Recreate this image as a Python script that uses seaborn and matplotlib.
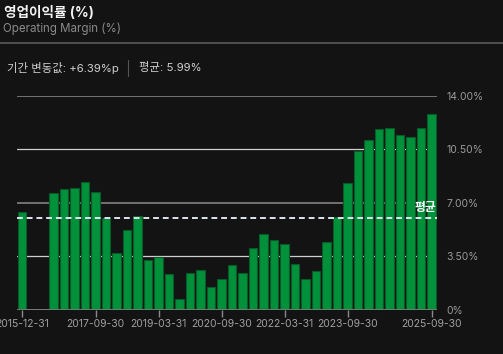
import matplotlib
matplotlib.use("Agg")
import matplotlib.pyplot as plt
import seaborn as sns
import pandas as pd
import numpy as np
from matplotlib.lines import Line2D

# ---- data ----
dates = pd.date_range("2015-12-31", "2025-09-30", freq="QE").strftime("%Y-%m-%d").tolist()
margin = [6.40, np.nan, np.nan, 7.65, 7.93, 7.97, 8.37, 7.71, 6.03, 3.70,
          5.23, 6.14, 3.25, 3.46, 2.37, 0.72, 2.39, 2.63, 1.48, 2.03,
          2.94, 2.39, 4.03, 4.97, 4.55, 4.31, 2.98, 2.03, 2.55, 4.42,
          6.10, 8.30, 10.39, 11.11, 11.81, 11.87, 11.46, 11.29, 11.87, 12.79]
tick_labels = ["2015-12-31", "2017-09-30", "2019-03-31", "2020-09-30",
               "2022-03-31", "2023-09-30", "2025-09-30"]
y_ticks = [0, 3.5, 7.0, 10.5, 14.0]
y_tick_labels = ["0%", "3.50%", "7.00%", "10.50%", "14.00%"]
title = "영업이익률 (%)"
subtitle = "Operating Margin (%)"
stat_change = "기간 변동값: +6.39%p"
stat_mean = "평균: 5.99%"
mean_value = 5.99

df = pd.DataFrame({"date": dates, "margin": margin})
df_valid = df.dropna()

BG = "#131313"
sns.set_theme(style="dark")
FAM = ["Inter", "Noto Sans CJK KR", "DejaVu Sans"]
plt.rcParams["font.family"] = FAM

W, H = 503, 354
fig = plt.figure(figsize=(W / 100, H / 100), dpi=100, facecolor=BG)

def px(x, y):
    return x / W, 1 - y / H

# header
fig.text(*px(4, 13), title, color="#f2f2f2", fontsize=9.8, fontweight="bold", va="center", ha="left")
fig.text(*px(3, 29), subtitle, color="#8a8a8a", fontsize=8.3, va="center", ha="left")
fig.add_artist(Line2D([0, 1], [1 - 43 / H] * 2, color="#5a5a5a", lw=1.2, transform=fig.transFigure))
fig.text(*px(7, 68), stat_change, color="#d0d0d0", fontsize=8.2, va="center", ha="left")
fig.add_artist(Line2D([128 / W] * 2, [1 - 60 / H, 1 - 76 / H], color="#555555", lw=0.8, transform=fig.transFigure))
fig.text(*px(139, 68), stat_mean, color="#d0d0d0", fontsize=8.2, va="center", ha="left")

left, right = 16.75, 436.75
top, bottom = 95.7, 310
ax = fig.add_axes([left / W, 1 - bottom / H, (right - left) / W, (bottom - top) / H])
ax.set_facecolor(BG)

sns.barplot(data=df_valid, x="date", y="margin", order=dates, color="#00913a",
            saturation=1, width=0.8, edgecolor="#0a5a28", linewidth=0.8, ax=ax)

ax.set_xlim(-0.5, len(dates) - 0.5)
ax.set_ylim(0, 14)

# gridlines
for v in y_ticks:
    if v in (0, 7.0, 14.0):
        ax.axhline(v, color="#7a7a7a", lw=1.3, zorder=0.5)
    else:
        ax.axhline(v, color="#cfcfcf", lw=0.9, zorder=0.5)
ax.axhline(0, color="#7a7a7a", lw=1.3, zorder=3)

# mean line
ax.axhline(mean_value, color="#dfe4f0", lw=1.4, ls=(0, (3, 2)), zorder=4)
ax.text(len(dates) - 0.5, mean_value + 0.3, "평균", color="#ffffff", fontsize=8.5,
        fontweight="bold", ha="right", va="bottom", zorder=5)

for s in ax.spines.values():
    s.set_visible(False)

ax.yaxis.tick_right()
ax.set_yticks(y_ticks)
ax.set_yticklabels(y_tick_labels)
ax.tick_params(axis="y", length=0, pad=7, labelsize=7.5, labelcolor="#9a9a9a")

tick_pos = [dates.index(t) for t in tick_labels]
ax.set_xticks(tick_pos)
ax.set_xticklabels(tick_labels)
ax.tick_params(axis="x", length=5, width=1, color="#8a8a8a", pad=1.5, labelsize=7.5,
               labelcolor="#a0a0a0", bottom=True, direction="out")
ax.set_xlabel("")
ax.set_ylabel("")
ax.grid(False)

fig.savefig("out.png", dpi=100, facecolor=BG)
